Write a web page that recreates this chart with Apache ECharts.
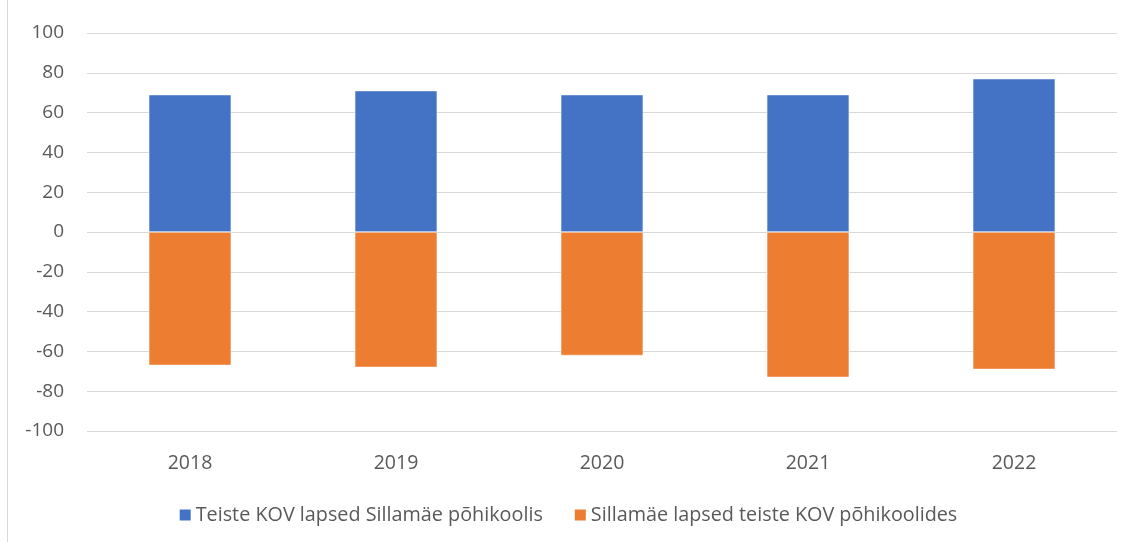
<!DOCTYPE html>
<html>
<head>
<meta charset="utf-8">
<script src="https://cdn.jsdelivr.net/npm/echarts@6/dist/echarts.min.js"></script>
<style>
  html, body { margin: 0; padding: 0; background: #fff; }
  #chart { width: 1135px; height: 542px; }
</style>
</head>
<body>
<div id="chart"></div>
<script>
const years = ["2018", "2019", "2020", "2021", "2022"];
const incoming = [69, 71, 69, 69, 77];
const outgoing = [-67, -68, -62, -73, -69];
const yTicks = [-100, -80, -60, -40, -20, 0, 20, 40, 60, 80, 100];

const font = "'Open Sans', sans-serif";
const chart = echarts.init(document.getElementById("chart"));
chart.setOption({
  animation: false,
  textStyle: { fontFamily: font },
  grid: { left: 87, right: 18, top: 33, bottom: 111 },
  graphic: [
    { type: "line", shape: { x1: 7.5, y1: 0, x2: 7.5, y2: 542 }, style: { stroke: "#d9d9d9", lineWidth: 1 } }
  ],
  legend: {
    top: 500,
    left: "center",
    itemWidth: 13,
    itemHeight: 13,
    itemGap: 30,
    icon: "rect",
    textStyle: { color: "#595959", fontSize: 19.8, fontFamily: font, padding: [0, 0, 0, -1] }
  },
  xAxis: {
    type: "category",
    data: years,
    axisLine: { show: false },
    axisTick: { show: false },
    axisLabel: { color: "#595959", fontSize: 19.5, margin: 22 }
  },
  yAxis: {
    type: "value",
    min: yTicks[0],
    max: yTicks[yTicks.length - 1],
    interval: 20,
    axisLine: { show: false },
    axisTick: { show: false },
    axisLabel: { color: "#595959", fontSize: 19, margin: 23 },
    splitLine: { lineStyle: { color: "#d9d9d9", width: 1 } }
  },
  series: [
    {
      name: "Teiste KOV lapsed Sillamäe põhikoolis",
      type: "bar",
      stack: "total",
      barWidth: "40%",
      itemStyle: { color: "#4472c4", borderColor: "#fff", borderWidth: 0.5 },
      data: incoming
    },
    {
      name: "Sillamäe lapsed teiste KOV põhikoolides",
      type: "bar",
      stack: "total",
      barWidth: "40%",
      itemStyle: { color: "#ed7d31", borderColor: "#fff", borderWidth: 0.5 },
      data: outgoing
    }
  ]
});
</script>
</body>
</html>
